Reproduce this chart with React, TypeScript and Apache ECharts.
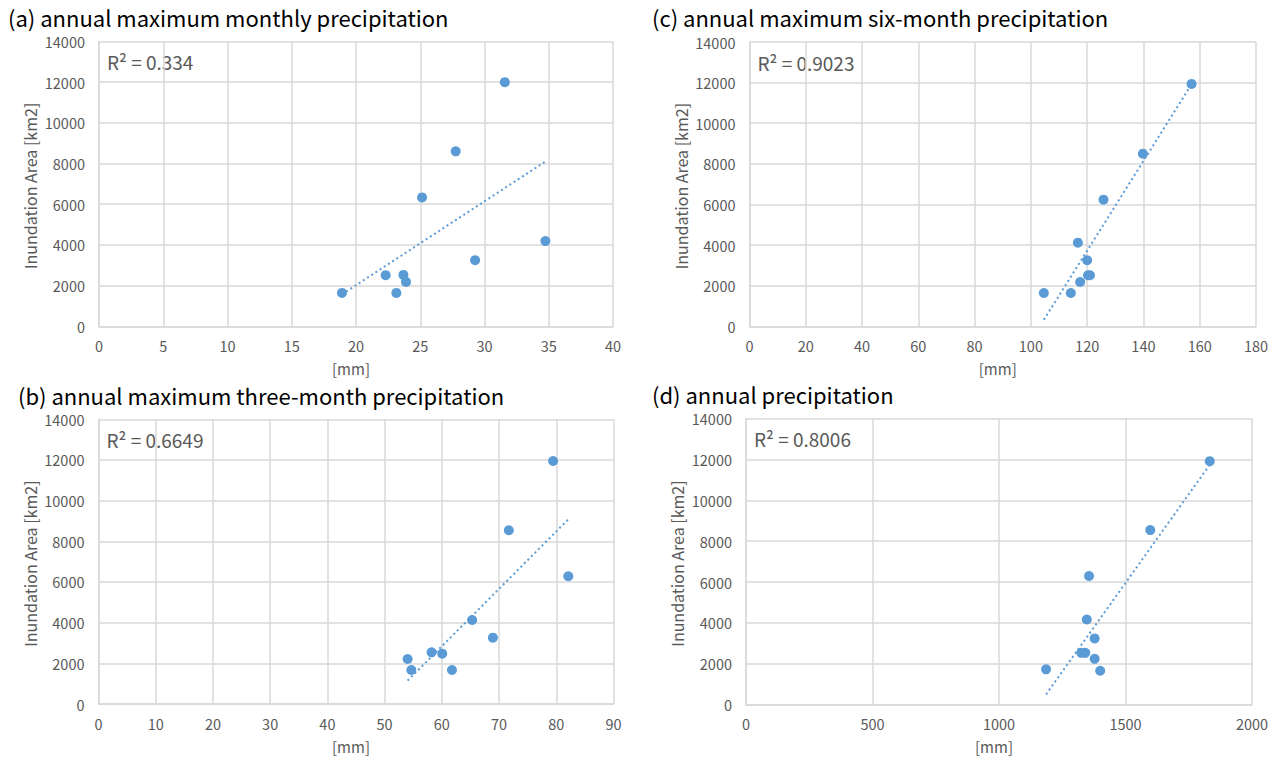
import React, { useEffect, useRef } from "react";
import * as echarts from "echarts";

// (a) annual maximum monthly precipitation
const aX = [18.91, 22.31, 23.14, 23.69, 23.89, 25.14, 27.76, 29.27, 31.58, 34.74];
const aY = [1640, 2512, 1640, 2527, 2182, 6335, 8601, 3251, 12000, 4187];
const aTrendX = [18.91, 34.74];
const aTrendY = [1570, 8100];

// (b) annual maximum three-month precipitation
const bX = [54.02, 54.67, 58.21, 60.07, 61.77, 65.3, 68.92, 71.71, 79.44, 82.1];
const bY = [2213, 1672, 2542, 2474, 1672, 4131, 3261, 8542, 11950, 6280];
const bTrendX = [54.02, 82.1];
const bTrendY = [1150, 9080];

// (c) annual maximum six-month precipitation
const cX = [104.6, 114.2, 116.7, 117.5, 120.0, 120.3, 121.0, 125.8, 139.8, 157.1];
const cY = [1640, 1640, 4118, 2182, 3251, 2512, 2512, 6236, 8502, 11936];
const cTrendX = [104.6, 157.1];
const cTrendY = [320, 11920];

// (d) annual precipitation
const dX = [1186, 1325, 1341, 1347, 1356, 1378, 1378, 1400, 1598, 1833];
const dY = [1725, 2535, 2535, 4167, 6297, 3239, 2242, 1656, 8544, 11915];
const dTrendX = [1186, 1833];
const dTrendY = [500, 11740];

const titles = [
  "(a) annual maximum monthly precipitation",
  "(b) annual maximum three-month precipitation",
  "(c) annual maximum six-month precipitation",
  "(d) annual precipitation",
];
const r2Labels = ["R² = 0.334", "R² = 0.6649", "R² = 0.9023", "R² = 0.8006"];
const xMaxes = [40, 90, 180, 2000];
const xIntervals = [5, 10, 20, 500];
const yMax = 14000;
const yInterval = 2000;
const xName = "[mm]";
const yName = "Inundation Area [km2]";

const BLUE = "#5B9BD5";
const GRID = "#D9D9D9";
const TXT = "#595959";
const FONT = "'Noto Sans CJK JP', 'Noto Sans', sans-serif";

const grids = [
  { left: 99, top: 41.5, width: 514, height: 284.8 },
  { left: 98.5, top: 419.3, width: 515, height: 284.7 },
  { left: 749.5, top: 42, width: 506.5, height: 284.3 },
  { left: 746, top: 418.6, width: 506, height: 286 },
];
const titlePos = [
  [8, 17],
  [18, 394.5],
  [652, 17],
  [652, 394],
];

const zip = (xs: number[], ys: number[]) => xs.map((x, i) => [x, ys[i]]);

export default function App() {
  const ref = useRef<HTMLDivElement>(null);
  useEffect(() => {
    document.body.style.margin = "0";
    if (!ref.current) return;
    const chart = echarts.init(ref.current, undefined, { renderer: "svg" });
    const pts = [zip(aX, aY), zip(bX, bY), zip(cX, cY), zip(dX, dY)];
    const trends = [
      zip(aTrendX, aTrendY),
      zip(bTrendX, bTrendY),
      zip(cTrendX, cTrendY),
      zip(dTrendX, dTrendY),
    ];
    const plain = (v: number) => String(v);
    const xAxis = grids.map((_, i) => ({
      type: "value",
      gridIndex: i,
      min: 0,
      max: xMaxes[i],
      interval: xIntervals[i],
      axisLine: { show: true, lineStyle: { color: GRID, width: 1.5 } },
      axisTick: { show: false },
      splitLine: { show: true, lineStyle: { color: GRID, width: 1.5 } },
      axisLabel: { color: TXT, fontSize: 14.5, fontFamily: FONT, margin: 12, formatter: plain },
    }));
    const yAxis = grids.map((_, i) => ({
      type: "value",
      gridIndex: i,
      min: 0,
      max: yMax,
      interval: yInterval,
      axisLine: { show: true, lineStyle: { color: GRID, width: 1.5 } },
      axisTick: { show: false },
      splitLine: { show: true, lineStyle: { color: GRID, width: 1.5 } },
      axisLabel: {
        color: TXT,
        fontSize: 14.5,
        fontFamily: FONT,
        margin: 14,
        formatter: plain,
        lineHeight: 15,
      },
    }));
    const series: any[] = [];
    grids.forEach((_, i) => {
      series.push({
        type: "line",
        xAxisIndex: i,
        yAxisIndex: i,
        data: trends[i],
        symbol: "none",
        lineStyle: { color: BLUE, width: 2, type: [2, 3] },
        z: 1,
      });
      series.push({
        type: "scatter",
        xAxisIndex: i,
        yAxisIndex: i,
        data: pts[i],
        symbolSize: 10,
        itemStyle: { color: BLUE, opacity: 1 },
        z: 2,
      });
    });
    const graphic: any[] = [];
    grids.forEach((g, i) => {
      graphic.push({
        type: "text",
        x: titlePos[i][0],
        y: titlePos[i][1],
        style: {
          text: titles[i],
          fill: "#000",
          font: `22px ${FONT}`,
          lineHeight: 22,
          textVerticalAlign: "middle",
        },
      });
      graphic.push({
        type: "text",
        x: g.left + 8,
        y: g.top + 20,
        style: {
          text: r2Labels[i],
          fill: TXT,
          font: `19px ${FONT}`,
          textVerticalAlign: "middle",
        },
      });
      graphic.push({
        type: "text",
        x: g.left + g.width / 2 - 5,
        y: g.top + g.height + 42,
        style: {
          text: xName,
          fill: TXT,
          font: `15px ${FONT}`,
          textAlign: "center",
          textVerticalAlign: "middle",
        },
      });
      graphic.push({
        type: "text",
        x: g.left - 69,
        y: g.top + g.height / 2 + 2,
        rotation: Math.PI / 2,
        style: {
          text: yName,
          fill: TXT,
          font: `16px ${FONT}`,
          textAlign: "center",
          textVerticalAlign: "middle",
        },
      });
    });
    chart.setOption({
      animation: false,
      backgroundColor: "#fff",
      grid: grids.map((g) => ({ ...g, containLabel: false })),
      xAxis,
      yAxis,
      series,
      graphic,
    });
    return () => chart.dispose();
  }, []);
  return <div ref={ref} style={{ width: 1284, height: 760 }} />;
}
